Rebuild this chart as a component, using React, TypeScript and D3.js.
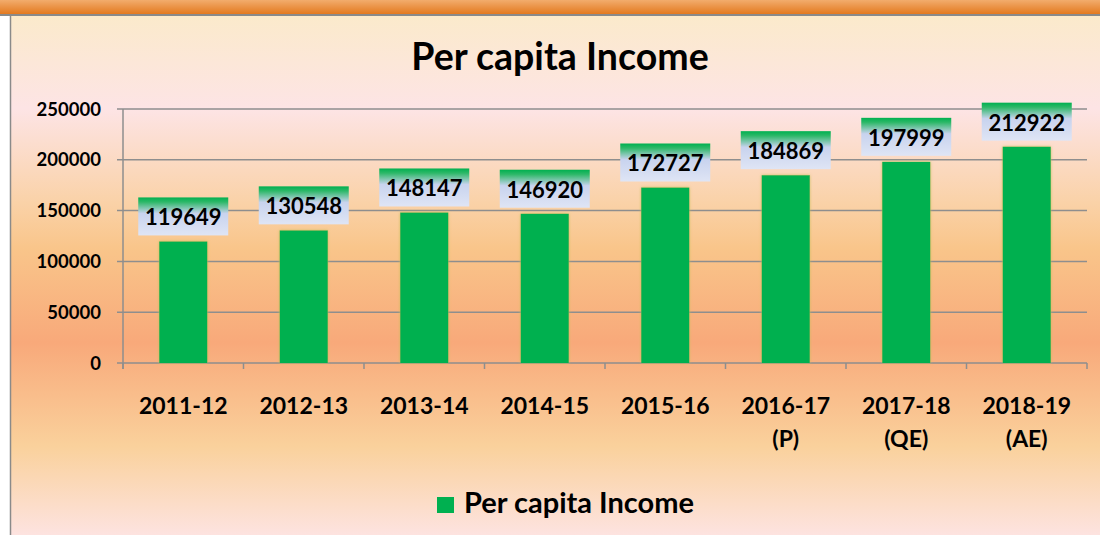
import React from "react";
import * as d3 from "d3";

const years = ["2011-12", "2012-13", "2013-14", "2014-15", "2015-16", "2016-17", "2017-18", "2018-19"];
const yearNotes = ["", "", "", "", "", "(P)", "(QE)", "(AE)"];
const perCapitaIncome = [119649, 130548, 148147, 146920, 172727, 184869, 197999, 212922];
const yTicks = [0, 50000, 100000, 150000, 200000, 250000];

const W = 1100;
const H = 535;
const FONT = "Lato, 'Open Sans', sans-serif";
const GREEN = "#00B050";
const GRID = "#8E8E8E";

const App = () => {
  const left = 123;
  const right = 1087;
  const top = 109;
  const bottom = 363;

  const x = d3
    .scaleBand<string>()
    .domain(years)
    .range([left, right])
    .paddingInner(0.6)
    .paddingOuter(0.3);
  const y = d3.scaleLinear().domain([0, 250000]).range([bottom, top]);
  const step = x.step();

  const boxW = 90;
  const boxH = 38;

  return (
    <div style={{ position: "absolute", left: 0, top: 0 }}>
      <svg width={W} height={H} style={{ display: "block" }}>
        <defs>
          <linearGradient id="band" x1="0" y1="0" x2="0" y2="1">
            <stop offset="0" stopColor="#F2AC6C" />
            <stop offset="1" stopColor="#E2761A" />
          </linearGradient>
          <linearGradient id="bg" x1="0" y1="0" x2="0" y2="1">
            <stop offset="0" stopColor="#FBEACB" />
            <stop offset="0.18" stopColor="#FDE4E5" />
            <stop offset="0.36" stopColor="#FAD2A8" />
            <stop offset="0.45" stopColor="#F9C58A" />
            <stop offset="0.63" stopColor="#F8A97A" />
            <stop offset="0.83" stopColor="#FAD19C" />
            <stop offset="1" stopColor="#FDE3E0" />
          </linearGradient>
          <linearGradient id="lbl" x1="0" y1="0" x2="0" y2="1">
            <stop offset="0" stopColor={GREEN} />
            <stop offset="0.12" stopColor="#2DB868" />
            <stop offset="0.42" stopColor="#C8D3EE" />
            <stop offset="1" stopColor="#DFE5F5" />
          </linearGradient>
          <filter id="glow" x="-30%" y="-10%" width="160%" height="120%">
            <feDropShadow dx="0" dy="0" stdDeviation="1.8" floodColor="#C9BE5A" floodOpacity="0.9" />
          </filter>
        </defs>

        {/* background */}
        <rect x={0} y={0} width={W} height={15} fill="url(#band)" />
        <rect x={10} y={15} width={W - 10} height={H - 15} fill="url(#bg)" />
        <line x1={0} x2={W} y1={15} y2={15} stroke="#8A8A8A" strokeWidth={2} />
        <line x1={10.5} x2={10.5} y1={15} y2={H} stroke="#8A8A8A" strokeWidth={1.5} />

        {/* title */}
        <text x={560} y={70} textAnchor="middle" fontFamily={FONT} fontWeight="bold" fontSize={37.5} fill="#000">
          Per capita Income
        </text>

        {/* grid + y axis */}
        {yTicks.map((t) => (
          <g key={t}>
            <line x1={left - 6} x2={right} y1={y(t)} y2={y(t)} stroke={GRID} strokeWidth={1.5} />
            <text
              x={101}
              y={y(t)}
              dy="0.36em"
              textAnchor="end"
              fontFamily={FONT}
              fontWeight="bold"
              fontSize={18.5}
              fill="#000"
            >
              {t}
            </text>
          </g>
        ))}
        <line x1={left} x2={left} y1={top} y2={bottom + 6} stroke={GRID} strokeWidth={1.5} />
        {d3.range(years.length + 1).map((i) => (
          <line
            key={i}
            x1={left + i * step}
            x2={left + i * step}
            y1={bottom}
            y2={bottom + 6}
            stroke={GRID}
            strokeWidth={1.5}
          />
        ))}

        {/* bars */}
        {perCapitaIncome.map((v, i) => (
          <rect
            key={years[i]}
            x={x(years[i])}
            y={y(v)}
            width={x.bandwidth()}
            height={bottom - y(v)}
            fill={GREEN}
            filter="url(#glow)"
          />
        ))}

        {/* data labels */}
        {perCapitaIncome.map((v, i) => {
          const cx = (x(years[i]) as number) + x.bandwidth() / 2;
          const by = y(v) - 6 - boxH;
          return (
            <g key={"l" + years[i]}>
              <rect x={cx - boxW / 2} y={by} width={boxW} height={boxH} fill="url(#lbl)" />
              <text
                x={cx}
                y={by + boxH / 2 + 1}
                dy="0.36em"
                textAnchor="middle"
                fontFamily={FONT}
                fontWeight="bold"
                fontSize={22}
                fill="#000"
              >
                {v}
              </text>
            </g>
          );
        })}

        {/* x labels */}
        {years.map((yr, i) => {
          const cx = (x(yr) as number) + x.bandwidth() / 2;
          return (
            <text
              key={"x" + yr}
              x={cx}
              y={414}
              textAnchor="middle"
              fontFamily={FONT}
              fontWeight="bold"
              fontSize={23}
              fill="#000"
            >
              <tspan x={cx}>{yr}</tspan>
              {yearNotes[i] && (
                <tspan x={cx} y={447}>
                  {yearNotes[i]}
                </tspan>
              )}
            </text>
          );
        })}

        {/* legend */}
        <rect x={437} y={497} width={17} height={16} fill={GREEN} />
        <text x={464} y={513} fontFamily={FONT} fontWeight="bold" fontSize={29} fill="#000">
          Per capita Income
        </text>
      </svg>
    </div>
  );
};

export default App;
